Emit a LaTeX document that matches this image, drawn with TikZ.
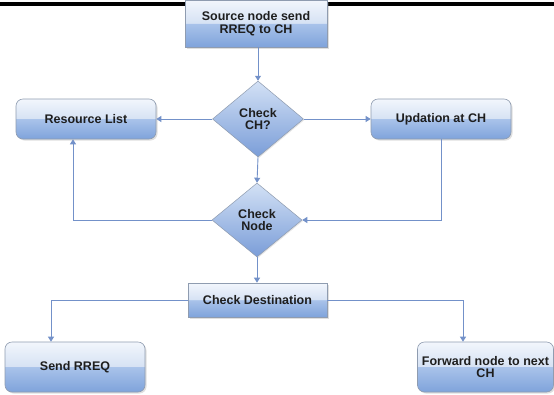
\documentclass[tikz,border=0pt]{standalone}
\usepackage{fontspec}
\setmainfont{Liberation Sans}
\usetikzlibrary{shapes.geometric,arrows.meta,shadows}
\definecolor{boxtop}{HTML}{F2F6FC}
\definecolor{boxmidA}{HTML}{D6E2F4}
\definecolor{boxmidB}{HTML}{A9C3EA}
\definecolor{boxbot}{HTML}{7FA3DB}
\definecolor{dtop}{HTML}{D3E1F5}
\definecolor{dbot}{HTML}{7A9DD8}
\definecolor{edge}{HTML}{8F9CB0}
\definecolor{conncol}{HTML}{7391C9}
\definecolor{txt}{HTML}{1E1E1E}
\pgfdeclareverticalshading{glossy}{100bp}{color(0bp)=(boxbot); color(25bp)=(boxbot); color(50bp)=(boxmidB); color(50.5bp)=(boxmidA); color(75bp)=(boxtop); color(100bp)=(boxtop)}
\tikzset{
  lbl/.style={font=\bfseries\fontsize{12.5}{12.5}\selectfont, text=txt, align=center, inner sep=0pt},
  sqbox/.style={lbl, shading=glossy, draw=edge, line width=0.6pt,
    drop shadow={shadow xshift=1.5pt, shadow yshift=-1.5pt, opacity=0.25}},
  rbox/.style={sqbox, rounded corners=7pt},
  dia/.style={lbl, diamond, top color=dtop, bottom color=dbot, draw=edge, line width=0.5pt,
    drop shadow={shadow xshift=1pt, shadow yshift=-1pt, opacity=0.2}},
  conn/.style={draw=conncol, line width=0.9pt, -{Triangle[width=6pt,length=5pt]}},
}
\begin{document}
\begin{tikzpicture}[x=1pt,y=-1pt]
\useasboundingbox (0,0) rectangle (554,394);
\fill[white] (0,0) rectangle (554,394);
\draw[line width=4pt] (0,3.5) -- (554,3.5);
\node[sqbox, minimum width=142pt, minimum height=47pt] (src) at (256,23.5) {Source node send\\RREQ to CH};
\node[dia, minimum width=91pt, minimum height=76pt] (chk1) at (258,119) {Check\\CH?};
\node[rbox, minimum width=140pt, minimum height=40pt] (res) at (86,119) {Resource List};
\node[rbox, minimum width=140pt, minimum height=40pt] (upd) at (441,119) {Updation at CH};
\node[dia, minimum width=90pt, minimum height=74pt] (chk2) at (257,220) {Check\\Node};
\node[sqbox, minimum width=139pt, minimum height=34pt] (dest) at (257.5,300) {Check Destination};
\node[rbox, minimum width=140pt, minimum height=50pt] (send) at (75,367) {Send RREQ};
\node[rbox, minimum width=136pt, minimum height=50pt] (fwd) at (485.5,367) {Forward node to next\\CH};
\draw[conn] (src.south -| chk1.north) -- (chk1.north);
\draw[conn] (chk1.west) -- (res.east);
\draw[conn] (chk1.east) -- (upd.west);
\draw[conn] (chk1.south) -- (chk2.north);
\draw[conn] (chk2.west) -| ([xshift=-13pt]res.south);
\draw[conn] (upd.south) |- (chk2.east);
\draw[conn] (chk2.south) -- (chk2.south |- dest.north);
\draw[conn] (dest.west) -| ([xshift=-24pt]send.north);
\draw[conn] (dest.east) -| ([xshift=-22.5pt]fwd.north);
\end{tikzpicture}
\end{document}
